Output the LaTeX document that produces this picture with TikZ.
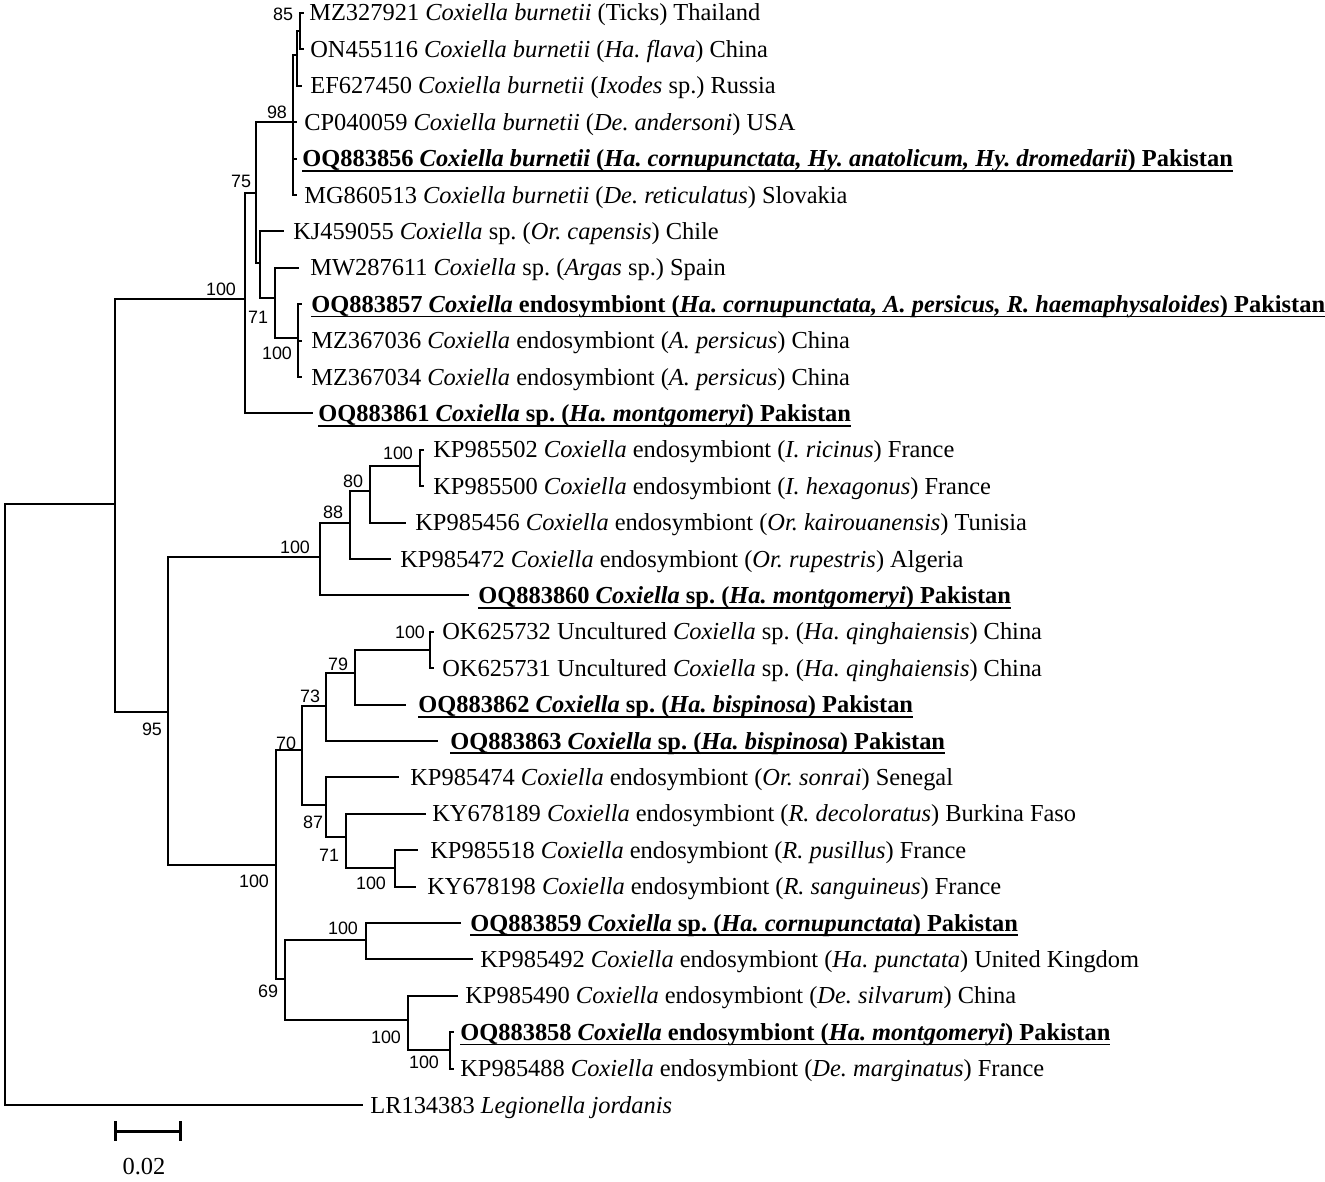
\documentclass[tikz,border=0pt]{standalone}
\usepackage{fontspec}
\setmainfont{Liberation Serif}
\newfontfamily\bootsans{Liberation Sans}
\newsavebox\ulsave
\newcommand\ulbox[1]{\sbox\ulsave{#1}\rlap{\rule[-3.0pt]{\wd\ulsave}{1.1pt}}\usebox\ulsave}
\newcommand\leaffont{\fontsize{13.9}{16}\selectfont\frenchspacing}
\newcommand\bootfont{\bootsans\fontsize{10.2}{12}\selectfont}
\begin{document}
\begin{tikzpicture}[x=0.2mm,y=-0.2mm,
  branch/.style={line width=0.4mm, line cap=rect},
  leaf/.style={anchor=base west, inner sep=0pt, font=\leaffont},
  boot/.style={inner sep=0pt, font=\bootfont},
  scalebar/.style={line width=0.6mm}]
\useasboundingbox (0,0) rectangle (1325,1182);
% internal nodes
\coordinate (root) at (5,805);
\coordinate (A) at (115,504);
\coordinate (B) at (245,299);
\coordinate (D) at (256,193);
\coordinate (E) at (293,122);
\coordinate (N2) at (297,55);
\coordinate (N3) at (300,31);
\coordinate (F) at (260,263);
\coordinate (G) at (275,298);
\coordinate (H) at (298,338);
\coordinate (C) at (168,712);
\coordinate (I) at (320,557);
\coordinate (J) at (350,523);
\coordinate (K) at (370,491);
\coordinate (L) at (420,466);
\coordinate (M) at (276,865);
\coordinate (N) at (302,750);
\coordinate (P) at (326,706);
\coordinate (R) at (355,673);
\coordinate (S) at (430,650);
\coordinate (Q) at (326,805);
\coordinate (T) at (346,837);
\coordinate (U) at (395,868);
\coordinate (O) at (285,979);
\coordinate (V) at (366,940);
\coordinate (W) at (408,1020);
\coordinate (X) at (450,1050);
% tips
\coordinate (t1) at (303,13);
\coordinate (t2) at (303,49.4);
\coordinate (t3) at (301,85.8);
\coordinate (t4) at (296,122.2);
\coordinate (t5) at (296,158.6);
\coordinate (t6) at (296,195);
\coordinate (t7) at (283,231.4);
\coordinate (t8) at (298,267.8);
\coordinate (t9) at (301,304.2);
\coordinate (t10) at (301,340.6);
\coordinate (t11) at (301,377);
\coordinate (t12) at (312,413.4);
\coordinate (t13) at (423,449.8);
\coordinate (t14) at (423,486.2);
\coordinate (t15) at (405,522.6);
\coordinate (t16) at (390,559);
\coordinate (t17) at (468,595.4);
\coordinate (t18) at (433,631.8);
\coordinate (t19) at (433,668.2);
\coordinate (t20) at (405,704.6);
\coordinate (t21) at (437,741);
\coordinate (t22) at (398,777.4);
\coordinate (t23) at (425,813.8);
\coordinate (t24) at (417,850.2);
\coordinate (t25) at (415,886.6);
\coordinate (t26) at (460,923);
\coordinate (t27) at (472,959.4);
\coordinate (t28) at (457,995.8);
\coordinate (t29) at (453,1032.2);
\coordinate (t30) at (453,1068.6);
\coordinate (t31) at (362,1105);
% branches
\draw[branch] (root) |- (A);
\draw[branch] (root) |- (t31);
\draw[branch] (A) |- (B);
\draw[branch] (A) |- (C);
\draw[branch] (B) |- (D);
\draw[branch] (B) |- (t12);
\draw[branch] (D) |- (E);
\draw[branch] (D) |- (F);
\draw[branch] (E) |- (N2);
\draw[branch] (E) |- (t4);
\draw[branch] (E) |- (t5);
\draw[branch] (E) |- (t6);
\draw[branch] (N2) |- (N3);
\draw[branch] (N2) |- (t3);
\draw[branch] (N3) |- (t1);
\draw[branch] (N3) |- (t2);
\draw[branch] (F) |- (t7);
\draw[branch] (F) |- (G);
\draw[branch] (G) |- (t8);
\draw[branch] (G) |- (H);
\draw[branch] (H) |- (t9);
\draw[branch] (H) |- (t10);
\draw[branch] (H) |- (t11);
\draw[branch] (C) |- (I);
\draw[branch] (C) |- (M);
\draw[branch] (I) |- (J);
\draw[branch] (I) |- (t17);
\draw[branch] (J) |- (K);
\draw[branch] (J) |- (t16);
\draw[branch] (K) |- (L);
\draw[branch] (K) |- (t15);
\draw[branch] (L) |- (t13);
\draw[branch] (L) |- (t14);
\draw[branch] (M) |- (N);
\draw[branch] (M) |- (O);
\draw[branch] (N) |- (P);
\draw[branch] (N) |- (Q);
\draw[branch] (P) |- (R);
\draw[branch] (P) |- (t21);
\draw[branch] (R) |- (S);
\draw[branch] (R) |- (t20);
\draw[branch] (S) |- (t18);
\draw[branch] (S) |- (t19);
\draw[branch] (Q) |- (t22);
\draw[branch] (Q) |- (T);
\draw[branch] (T) |- (t23);
\draw[branch] (T) |- (U);
\draw[branch] (U) |- (t24);
\draw[branch] (U) |- (t25);
\draw[branch] (O) |- (V);
\draw[branch] (O) |- (W);
\draw[branch] (V) |- (t26);
\draw[branch] (V) |- (t27);
\draw[branch] (W) |- (t28);
\draw[branch] (W) |- (X);
\draw[branch] (X) |- (t29);
\draw[branch] (X) |- (t30);
% leaf labels
\node[leaf] (l1) at (309,21) {MZ327921 \textit{Coxiella burnetii} (Ticks) Thailand};
\node[leaf] (l2) at (310,57.4) {ON455116 \textit{Coxiella burnetii} (\textit{Ha. flava}) China};
\node[leaf] (l3) at (310,93.8) {EF627450 \textit{Coxiella burnetii} (\textit{Ixodes} sp.) Russia};
\node[leaf] (l4) at (304,130.2) {CP040059 \textit{Coxiella burnetii} (\textit{De. andersoni}) USA};
\node[leaf] (l5) at (302,166.6) {\ulbox{\bfseries OQ883856 \textit{Coxiella burnetii} (\textit{Ha. cornupunctata, Hy. anatolicum, Hy. dromedarii}) Pakistan}};
\node[leaf] (l6) at (304,203) {MG860513 \textit{Coxiella burnetii} (\textit{De. reticulatus}) Slovakia};
\node[leaf] (l7) at (293,239.4) {KJ459055 \textit{Coxiella} sp. (\textit{Or. capensis}) Chile};
\node[leaf] (l8) at (310,275.8) {MW287611 \textit{Coxiella} sp. (\textit{Argas} sp.) Spain};
\node[leaf] (l9) at (311,312.2) {\ulbox{\bfseries OQ883857 \textit{Coxiella} endosymbiont (\textit{Ha. cornupunctata, A. persicus, R. haemaphysaloides}) Pakistan}};
\node[leaf] (l10) at (311,348.6) {MZ367036 \textit{Coxiella} endosymbiont (\textit{A. persicus}) China};
\node[leaf] (l11) at (311,385) {MZ367034 \textit{Coxiella} endosymbiont (\textit{A. persicus}) China};
\node[leaf] (l12) at (318,421.4) {\ulbox{\bfseries OQ883861 \textit{Coxiella} sp. (\textit{Ha. montgomeryi}) Pakistan}};
\node[leaf] (l13) at (433,457.8) {KP985502 \textit{Coxiella} endosymbiont (\textit{I. ricinus}) France};
\node[leaf] (l14) at (433,494.2) {KP985500 \textit{Coxiella} endosymbiont (\textit{I. hexagonus}) France};
\node[leaf] (l15) at (415,530.6) {KP985456 \textit{Coxiella} endosymbiont (\textit{Or. kairouanensis}) Tunisia};
\node[leaf] (l16) at (400,567) {KP985472 \textit{Coxiella} endosymbiont (\textit{Or. rupestris}) Algeria};
\node[leaf] (l17) at (478,603.4) {\ulbox{\bfseries OQ883860 \textit{Coxiella} sp. (\textit{Ha. montgomeryi}) Pakistan}};
\node[leaf] (l18) at (442,639.8) {OK625732 Uncultured \textit{Coxiella} sp. (\textit{Ha. qinghaiensis}) China};
\node[leaf] (l19) at (442,676.2) {OK625731 Uncultured \textit{Coxiella} sp. (\textit{Ha. qinghaiensis}) China};
\node[leaf] (l20) at (418,712.6) {\ulbox{\bfseries OQ883862 \textit{Coxiella} sp. (\textit{Ha. bispinosa}) Pakistan}};
\node[leaf] (l21) at (450,749) {\ulbox{\bfseries OQ883863 \textit{Coxiella} sp. (\textit{Ha. bispinosa}) Pakistan}};
\node[leaf] (l22) at (410,785.4) {KP985474 \textit{Coxiella} endosymbiont (\textit{Or. sonrai}) Senegal};
\node[leaf] (l23) at (432,821.8) {KY678189 \textit{Coxiella} endosymbiont (\textit{R. decoloratus}) Burkina Faso};
\node[leaf] (l24) at (430,858.2) {KP985518 \textit{Coxiella} endosymbiont (\textit{R. pusillus}) France};
\node[leaf] (l25) at (427,894.6) {KY678198 \textit{Coxiella} endosymbiont (\textit{R. sanguineus}) France};
\node[leaf] (l26) at (470,931) {\ulbox{\bfseries OQ883859 \textit{Coxiella} sp. (\textit{Ha. cornupunctata}) Pakistan}};
\node[leaf] (l27) at (480,967.4) {KP985492 \textit{Coxiella} endosymbiont (\textit{Ha. punctata}) United Kingdom};
\node[leaf] (l28) at (465,1003.8) {KP985490 \textit{Coxiella} endosymbiont (\textit{De. silvarum}) China};
\node[leaf] (l29) at (460,1040.2) {\ulbox{\bfseries OQ883858 \textit{Coxiella} endosymbiont (\textit{Ha. montgomeryi}) Pakistan}};
\node[leaf] (l30) at (460,1076.6) {KP985488 \textit{Coxiella} endosymbiont (\textit{De. marginatus}) France};
\node[leaf] (l31) at (370,1113) {LR134383 \textit{Legionella jordanis}};
% bootstrap values
\node[boot] (b85) at (283,14) {85};
\node[boot] (b98) at (277,112) {98};
\node[boot] (b75) at (241,181) {75};
\node[boot] (bB) at (221,289) {100};
\node[boot] (bG) at (258,317) {71};
\node[boot] (bH) at (277,353) {100};
\node[boot] (bL) at (398,453) {100};
\node[boot] (b80) at (353,481) {80};
\node[boot] (b88) at (333,512) {88};
\node[boot] (bI) at (295,547) {100};
\node[boot] (bS) at (410,632) {100};
\node[boot] (b79) at (338,664) {79};
\node[boot] (b73) at (310,696) {73};
\node[boot] (b70) at (286,743) {70};
\node[boot] (b87) at (313,822) {87};
\node[boot] (bT) at (329,855) {71};
\node[boot] (bU) at (371,883) {100};
\node[boot] (b95) at (152,729) {95};
\node[boot] (bM) at (254,881) {100};
\node[boot] (bV) at (343,928) {100};
\node[boot] (b69) at (268,991) {69};
\node[boot] (bW) at (386,1037) {100};
\node[boot] (bX) at (424,1062) {100};
% scale bar
\coordinate (s1) at (115,1131);
\coordinate (s2) at (180,1131);
\draw[scalebar] (s1) -- (s2);
\draw[scalebar] ([yshift=2mm]s1) -- ([yshift=-2mm]s1);
\draw[scalebar] ([yshift=2mm]s2) -- ([yshift=-2mm]s2);
\node[leaf, anchor=base] (sl) at (144,1174) {0.02};
\end{tikzpicture}
\end{document}
